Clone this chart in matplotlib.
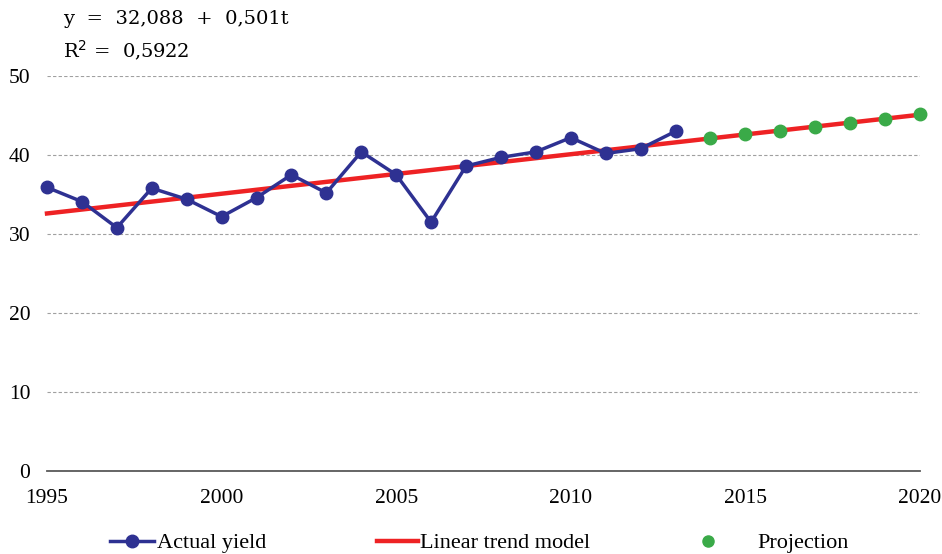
import matplotlib
matplotlib.use("Agg")
import matplotlib.pyplot as plt
from matplotlib.lines import Line2D

years_actual = list(range(1995, 2014))
actual_yield = [35.9, 34.1, 30.8, 35.8, 34.4, 32.2, 34.6, 37.5, 35.2, 40.4,
                37.5, 31.5, 38.6, 39.7, 40.4, 42.2, 40.2, 40.8, 43.0]
years_proj = list(range(2014, 2021))
projection = [42.1, 42.7, 43.0, 43.6, 44.1, 44.6, 45.2]
trend_years = [1995, 2020]
trend_values = [32.6, 45.1]
x_ticks = [1995, 2000, 2005, 2010, 2015, 2020]
y_ticks = [0, 10, 20, 30, 40, 50]

blue = "#2E3192"
red = "#EE2224"
green = "#3AAA48"

fig = plt.figure(figsize=(9.42, 5.54), dpi=100)
ax = fig.add_axes([0.0499, 0.1498, 0.9267, 0.713])

ax.plot(trend_years, trend_values, color=red, lw=3.2, zorder=3)
ax.plot(years_actual, actual_yield, color=blue, lw=2.5, marker="o", ms=9, zorder=4)
ax.plot(years_proj, projection, color=green, lw=0, marker="o", ms=9, zorder=5)

ax.set_xlim(1995, 2020)
ax.set_ylim(0, 50)
ax.set_xticks(x_ticks)
ax.set_yticks(y_ticks)
ax.set_xticklabels([str(v) for v in x_ticks], family="Liberation Serif", fontsize=15.5)
ax.set_yticklabels([str(v) for v in y_ticks], family="Liberation Serif", fontsize=15.5)
ax.tick_params(axis="both", length=0)
ax.tick_params(axis="x", pad=13)
ax.tick_params(axis="y", pad=12)
for s in ["left", "right", "top"]:
    ax.spines[s].set_visible(False)
ax.spines["bottom"].set_color("#595959")
ax.spines["bottom"].set_linewidth(1.3)
ax.yaxis.grid(True, color="#A0A0A0", lw=0.8, ls=(0, (3, 2)))
ax.set_axisbelow(True)
for ln in ax.lines:
    ln.set_clip_on(False)

fig.text(0.067, 0.965, "y  =  32,088  +  0,501t", family="DejaVu Serif", fontsize=14, va="center")
fig.text(0.067, 0.908, "R$^2$ =  0,5922", family="DejaVu Serif", fontsize=14, va="center")

prop = {"family": "Liberation Serif", "size": 16}
common = dict(loc="center left", frameon=False, prop=prop, borderpad=0, borderaxespad=0)
fig.legend([Line2D([], [], color=blue, lw=2.5, marker="o", ms=9)], ["Actual yield"],
           bbox_to_anchor=(110 / 942, 1 - 543 / 554), handlelength=2.0, handletextpad=0.1, **common)
fig.legend([Line2D([], [], color=red, lw=3.2)], ["Linear trend model"],
           bbox_to_anchor=(377 / 942, 1 - 543 / 554), handlelength=1.85, handletextpad=0.1, **common)
fig.legend([Line2D([], [], color=green, lw=0, marker="o", ms=8)], ["Projection"],
           bbox_to_anchor=(686 / 942, 1 - 543 / 554), handlelength=2.0, handletextpad=1.2, **common)

fig.savefig("out.png", dpi=100)
